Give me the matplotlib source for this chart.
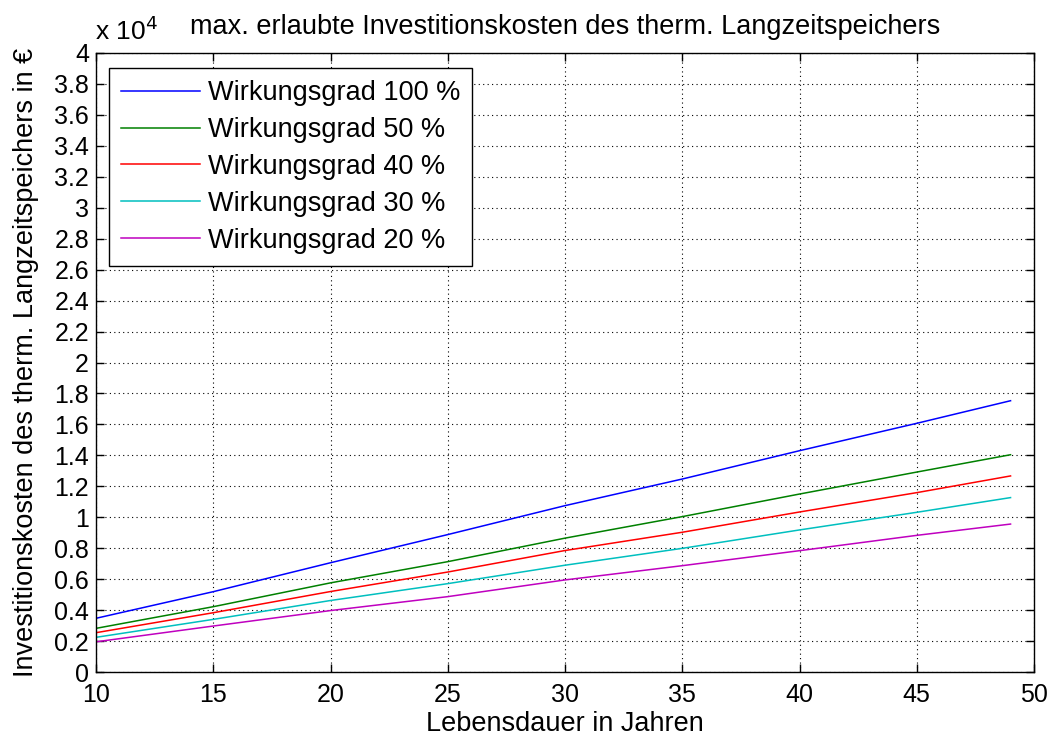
import matplotlib
matplotlib.use("Agg")
import matplotlib.pyplot as plt
from matplotlib.ticker import FuncFormatter, MultipleLocator

plt.rcParams['font.family'] = ['Liberation Sans', 'DejaVu Sans']

# Lebensdauer in Jahren
years = [10, 15, 20, 25, 30, 35, 40, 45, 49]

# max. erlaubte Investitionskosten in Euro je Wirkungsgrad
cost_100 = [3470, 5190, 7060, 8880, 10750, 12470, 14300, 16070, 17530]
cost_50 = [2820, 4220, 5760, 7130, 8650, 10040, 11500, 12920, 14040]
cost_40 = [2540, 3830, 5200, 6460, 7850, 9030, 10340, 11590, 12670]
cost_30 = [2240, 3400, 4620, 5710, 6900, 7990, 9180, 10320, 11270]
cost_20 = [1950, 2970, 3970, 4870, 5950, 6870, 7840, 8830, 9560]

labels = ['Wirkungsgrad 100 %', 'Wirkungsgrad 50 %', 'Wirkungsgrad 40 %',
          'Wirkungsgrad 30 %', 'Wirkungsgrad 20 %']
colors = ['#0000ff', '#008000', '#ff0000', '#00bfbf', '#bf00bf']

W, H = 1051, 742
fig = plt.figure(figsize=(W / 100, H / 100), dpi=100)
ax = fig.add_axes([96 / W, 1 - 672 / H, (1034 - 96) / W, (672 - 53) / H])

for series, lab, col in zip([cost_100, cost_50, cost_40, cost_30, cost_20], labels, colors):
    ax.plot(years, series, color=col, lw=1.1, label=lab)

ax.set_xlim(10, 50)
ax.set_ylim(0, 40000)
ax.xaxis.set_major_locator(MultipleLocator(5))
ax.yaxis.set_major_locator(MultipleLocator(2000))
ax.yaxis.set_major_formatter(FuncFormatter(lambda v, p: f"{v / 1e4:g}"))

ax.grid(True, color='black', linestyle=(0, (1, 3)), linewidth=0.8)
ax.tick_params(direction='in', top=True, right=True, length=6, width=1,
               labelsize=18)
ax.tick_params(axis='x', pad=8)
ax.tick_params(axis='y', pad=5)
for s in ax.spines.values():
    s.set_linewidth(1.0)

ax.set_xlabel('Lebensdauer in Jahren', fontsize=19.5, labelpad=3)
ax.set_ylabel('Investitionskosten des therm. Langzeitspeichers in €', fontsize=19.5, labelpad=11)
ax.set_title('max. erlaubte Investitionskosten des therm. Langzeitspeichers',
             fontsize=19.5, pad=14)
fig.text(95 / W, 1 - 40 / H, r'x 10$^{4}$', fontsize=19, ha='left', va='baseline')

leg = ax.legend(loc='upper left', bbox_to_anchor=(109 / W, 1 - 68 / H),
                bbox_transform=fig.transFigure, fontsize=19.5, frameon=True,
                fancybox=False, edgecolor='black', framealpha=1,
                handlelength=2.9, handletextpad=0.3, borderpad=0.45,
                labelspacing=0.4, borderaxespad=0)
leg.get_frame().set_linewidth(1.0)

fig.savefig('out.png', dpi=100)
